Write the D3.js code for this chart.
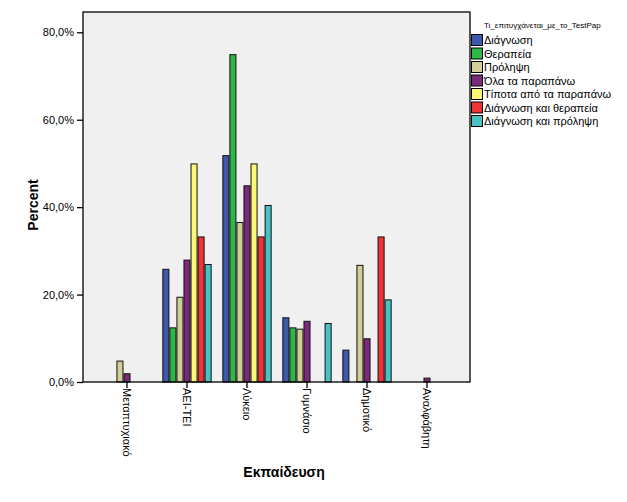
<!DOCTYPE html>
<html><head><meta charset="utf-8">
<script src="https://cdn.jsdelivr.net/npm/d3@7"></script>
<style>body{margin:0;background:#fff;font-family:"Liberation Sans",Arial,sans-serif;}</style>
</head><body><svg id="c" width="627" height="502"></svg>
<script>
const categories = ["Μεταπτυχιακό","ΑΕΙ-ΤΕΙ","Λύκειο","Γυμνάσιο","Δημοτικό","Αναλφάβητη"];
const seriesNames = ["Διάγνωση","Θεραπεία","Πρόληψη","Όλα τα παραπάνω","Τίποτα από τα παραπάνω","Διάγνωση και θεραπεία","Διάγνωση και πρόληψη"];
const seriesColors = ["#3E58AC","#2EB848","#D3CE97","#7C287D","#FBF873","#EF3338","#48C2C5"];
// percent values per series, aligned with categories (0 = no bar)
const diagnosi   = [0, 25.9, 51.9, 14.8, 7.4, 0];
const therapeia  = [0, 12.5, 75.0, 12.5, 0, 0];
const prolipsi   = [4.9, 19.5, 36.6, 12.2, 26.8, 0];
const ola        = [2.0, 28.0, 45.0, 14.0, 10.0, 1.0];
const tipota     = [0, 50.0, 50.0, 0, 0, 0];
const diagTher   = [0, 33.3, 33.3, 0, 33.3, 0];
const diagProl   = [0, 27.0, 40.5, 13.5, 18.9, 0];
const seriesValues = [diagnosi, therapeia, prolipsi, ola, tipota, diagTher, diagProl];
const yTicks = [0, 20, 40, 60, 80];
const legendTitle = "Τι_επιτυγχάνεται_με_το_TestPap";
const xTitle = "Εκπαίδευση", yTitle = "Percent";

const svg = d3.select("#c");
const L = 83, R = 470, T = 12, B = 382;
const fmt = v => d3.format(".1f")(v).replace(".", ",") + "%";

svg.append("rect").attr("x", L).attr("y", T).attr("width", R - L).attr("height", B - T)
  .attr("fill", "#F0F0F0");

const x0 = d3.scaleBand().domain(categories).range([97, 457]).padding(0);
const x1 = d3.scaleBand().domain(seriesNames).range([5.35, 54.65]).padding(0);
const y = d3.scaleLinear().domain([0, 80]).range([B, 32.3]);

// bars
const data = [];
categories.forEach((c, i) => seriesNames.forEach((s, j) => {
  const v = seriesValues[j][i];
  if (v > 0) data.push({c, s, v, color: seriesColors[j]});
}));
svg.append("g").selectAll("rect").data(data).join("rect")
  .attr("x", d => x0(d.c) + x1(d.s) + 0.5)
  .attr("y", d => y(d.v) + 0.5)
  .attr("width", x1.bandwidth() - 1)
  .attr("height", d => B - y(d.v) - 0.5)
  .attr("fill", d => d.color)
  .attr("stroke", "#111").attr("stroke-width", 1);

// frame
svg.append("rect").attr("x", L).attr("y", T).attr("width", R - L).attr("height", B - T)
  .attr("fill", "none").attr("stroke", "#000").attr("stroke-width", 1.3);

// y axis
const yAxis = svg.append("g").attr("transform", `translate(${L},0)`)
  .call(d3.axisLeft(y).tickValues(yTicks).tickFormat(fmt).tickSize(6).tickPadding(3));
yAxis.select(".domain").remove();
yAxis.selectAll("line").attr("stroke", "#000").attr("stroke-width", 1.3);
yAxis.selectAll("text").attr("font-family", "Liberation Sans, Arial, sans-serif").attr("font-size", 11).attr("fill", "#000");

// x axis
const xAxis = svg.append("g").attr("transform", `translate(0,${B})`)
  .call(d3.axisBottom(x0).tickSize(6).tickPadding(0));
xAxis.select(".domain").remove();
xAxis.selectAll("line").attr("stroke", "#000").attr("stroke-width", 1.3);
xAxis.selectAll("text")
  .attr("font-family", "Liberation Sans, Arial, sans-serif").attr("font-size", 11).attr("fill", "#000")
  .attr("text-anchor", "start")
  .attr("transform", "translate(0,6) rotate(90)")
  .attr("x", 0).attr("y", 0).attr("dy", "0.35em");

// titles
svg.append("text").attr("x", 284).attr("y", 477).attr("text-anchor", "middle")
  .attr("font-weight", "bold").attr("font-size", 14).text(xTitle);
svg.append("text").attr("transform", "translate(38,205) rotate(-90)").attr("text-anchor", "middle")
  .attr("font-weight", "bold").attr("font-size", 14).text(yTitle);

// legend
svg.append("text").attr("x", 484).attr("y", 28).attr("font-size", 8).attr("fill", "#000").text(legendTitle);
const lg = svg.append("g").selectAll("g").data(seriesNames).join("g")
  .attr("transform", (d, i) => `translate(471,${34 + i * 13.5})`);
lg.append("rect").attr("x", 0.5).attr("y", 0.5).attr("width", 11).attr("height", 11)
  .attr("fill", (d, i) => seriesColors[i]).attr("stroke", "#000").attr("stroke-width", 1);
lg.append("text").attr("x", 13).attr("y", 10).attr("font-size", 11).attr("fill", "#000").text(d => d);
</script></body></html>
